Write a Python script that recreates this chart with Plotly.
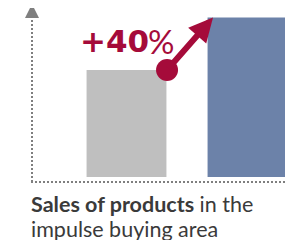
import plotly.graph_objects as go

categories = ["Before", "After"]
values = [100, 149]
bar_colors = ["#BFBFBF", "#6C82A9"]
change_label = "+40"
change_unit = "%"
caption_bold = "Sales of products"
caption_rest = " in the"
caption_line2 = "impulse buying area"

CRIMSON = "#A50B3A"
GREY = "#7F7F7F"
OFF = 8  # page body margin
W, H = 293 - OFF, 240 - OFF
bar_w = 0.66

def px(x):
    return (x - OFF) / W

def py(y):
    return (240 - y) / H

fig = go.Figure()
fig.add_trace(go.Bar(x=[0, 1], y=values, width=bar_w, marker=dict(color=bar_colors, line=dict(width=0)),
                     hoverinfo="skip"))
start = (0 + bar_w / 2 + 0.005, values[0])
end = (1 - bar_w / 2 + 0.045, values[1])
fig.add_trace(go.Scatter(x=[start[0]], y=[start[1]], mode="markers",
                         marker=dict(size=22, color=CRIMSON), hoverinfo="skip"))

fig.add_annotation(x=end[0], y=end[1], ax=start[0], ay=start[1], xref="x", yref="y",
                   axref="x", ayref="y", text="", showarrow=True, arrowhead=2,
                   arrowwidth=6, arrowsize=0.8, arrowcolor=CRIMSON, standoff=0, startstandoff=0)

fig.add_annotation(x=px(78), y=py(41), xref="paper", yref="paper", xanchor="left", yanchor="middle",
                   text="<b>" + change_label + "</b>", showarrow=False,
                   font=dict(family="DejaVu Sans", size=31, color=CRIMSON))
fig.add_annotation(x=px(146), y=py(41.5), xref="paper", yref="paper", xanchor="left", yanchor="middle",
                   text=change_unit, showarrow=False,
                   font=dict(family="Lato", size=33, color=CRIMSON))
fig.add_annotation(x=px(29), y=py(204), xref="paper", yref="paper", xanchor="left", yanchor="middle",
                   text="<b>" + caption_bold + "</b>" + caption_rest, showarrow=False,
                   font=dict(family="Lato", size=21.5, color="#3A3A3A"))
fig.add_annotation(x=px(29), y=py(228.5), xref="paper", yref="paper", xanchor="left", yanchor="middle",
                   text=caption_line2, showarrow=False,
                   font=dict(family="Lato", size=21.5, color="#3A3A3A"))

dot = dict(color=GREY, width=2, dash="2px,2px")
fig.add_shape(type="line", xref="paper", yref="paper", x0=px(31), x1=1, y0=py(182), y1=py(182), line=dot)
fig.add_shape(type="line", xref="paper", yref="paper", x0=px(32), x1=px(32), y0=py(182), y1=py(18), line=dot)
fig.add_shape(type="path", xref="paper", yref="paper",
              path=f"M{px(32)},{py(4)} L{px(25)},{py(18)} L{px(39)},{py(18)} Z",
              fillcolor=GREY, line=dict(width=0))

fig.update_layout(
    width=W, height=H, margin=dict(l=0, r=0, t=0, b=0),
    paper_bgcolor="white", plot_bgcolor="white", showlegend=False,
    xaxis=dict(range=[-118.5 / 121, 166.5 / 121], visible=False, fixedrange=True),
    yaxis=dict(range=[-58.9, 157.9], visible=False, fixedrange=True),
)
fig.write_html("out.html", config={"displayModeBar": False})
